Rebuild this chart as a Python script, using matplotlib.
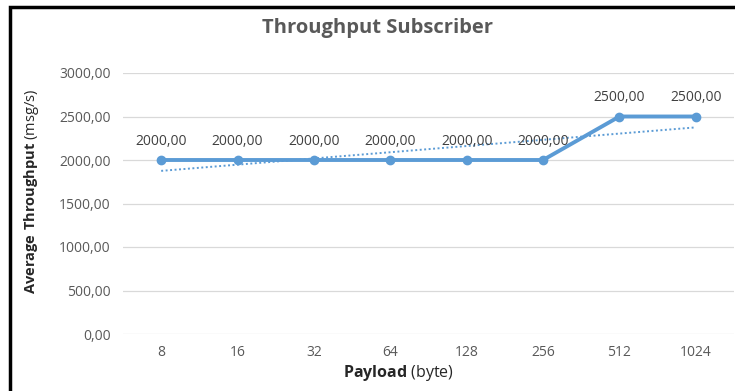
import matplotlib.pyplot as plt
import numpy as np
from matplotlib.patches import Rectangle

# datos
payload = ["8", "16", "32", "64", "128", "256", "512", "1024"]
throughput = [2000, 2000, 2000, 2000, 2000, 2000, 2500, 2500]
y_ticks = [0, 500, 1000, 1500, 2000, 2500, 3000]

plt.rcParams['font.family'] = ['Open Sans', 'DejaVu Sans']
plt.rcParams['mathtext.fontset'] = 'custom'
plt.rcParams['mathtext.rm'] = 'Open Sans'
plt.rcParams['mathtext.bf'] = 'Open Sans:bold'

azul = "#5B9BD5"
gris = "#595959"

fig = plt.figure(figsize=(7.35, 3.91), dpi=100)
ax = fig.add_axes([123 / 735, 1 - 334 / 391, 611 / 735, (334 - 73) / 391])

x = np.arange(len(payload))
ax.plot(x, throughput, color=azul, lw=2.8, marker="o", ms=6, zorder=3)

# linea de tendencia lineal
m, b = np.polyfit(x, throughput, 1)
ax.plot(x, m * x + b, color=azul, lw=1.4, ls=(0, (1, 1.3)), zorder=2)

for xi, v in zip(x, throughput):
    ax.annotate(f"{v:.2f}".replace(".", ","), (xi, v), xytext=(0, 8),
                textcoords="offset points", ha="center", va="bottom",
                fontsize=10, color="#404040")

ax.set_xlim(-0.5, len(payload) - 0.5)
ax.set_ylim(0, 3000)
ax.set_yticks(y_ticks)
ax.set_yticklabels([f"{t:.2f}".replace(".", ",") for t in y_ticks])
ax.set_xticks(x)
ax.set_xticklabels(payload)
ax.tick_params(length=0, labelsize=10, colors=gris, pad=9)
ax.tick_params(axis="x", pad=8)
ax.grid(axis="y", color="#D9D9D9", lw=0.9)
ax.set_axisbelow(True)
for s in ax.spines.values():
    s.set_visible(False)

fig.text(378 / 735, 1 - 28 / 391, "Throughput Subscriber", ha="center", va="center",
         fontsize=14.5, fontweight="bold", color=gris)
fig.text(398 / 735, 1 - 373 / 391, r"$\bf{Payload}$ (byte)", ha="center", va="center",
         fontsize=11.5, color="#262626")
fig.text(32 / 735, 1 - 191 / 391, r"$\bf{Average\ Throughput}$ (msg/s)", ha="center",
         va="center", rotation=90, fontsize=10.5, color="#262626")

# marco negro
fig.add_artist(Rectangle((10 / 735, -0.05), 1.1, 1 - 6.5 / 391 + 0.05,
                         transform=fig.transFigure, fill=False, lw=2.5, ec="black"))

fig.savefig("out.png", dpi=100)
